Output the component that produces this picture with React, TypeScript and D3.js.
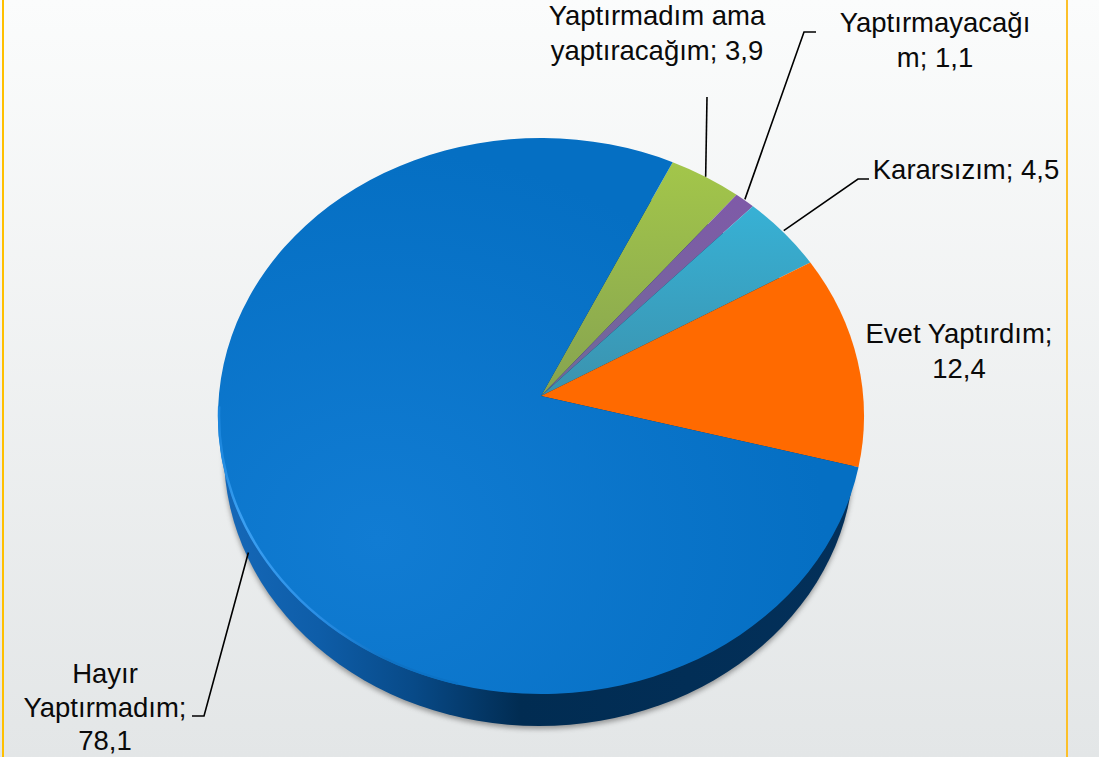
import React, { useEffect, useRef } from "react";
import * as d3 from "d3";

// values, clockwise from the green slice
const categories = ["Yaptırmadım ama yaptıracağım", "Yaptırmayacağım", "Kararsızım", "Evet Yaptırdım", "Hayır Yaptırmadım"];
const values = [3.9, 1.1, 4.5, 12.4, 78.1];
const valueLabels = ["3,9", "1,1", "4,5", "12,4", "78,1"];
const labelLines = [
  ["Yaptırmadım ama", "yaptıracağım; 3,9"],
  ["Yaptırmayacağı", "m; 1,1"],
  ["Kararsızım; 4,5"],
  ["Evet Yaptırdım;", "12,4"],
  ["Hayır", "Yaptırmadım;", "78,1"],
];
const sliceFills = ["url(#gGreen)", "url(#gPurple)", "url(#gCyan)", "#ff6a00", "url(#gBlue)"];

const width = 1099;
const height = 757;

// pie ellipse, the apex sits above the ellipse centre because of the perspective
const cx = 541;
const cy = 416;
const rx = 323;
const ry = 278;
const apex = { x: 541, y: 396 };
const tilt = (cy - apex.y) / ry;
const startDeg = 25.8;

// where each label goes
const labelPos = [
  { x: 657, y: 25, dy: 35 },
  { x: 935, y: 32, dy: 35 },
  { x: 966, y: 179, dy: 36 },
  { x: 959, y: 343, dy: 35 },
  { x: 105, y: 683, dy: 33.5 },
];
// leader lines, from the slice edge to the label (elbow points)
const leaderPts: (number[][] | null)[] = [
  [[707, 97]],
  [[804, 32], [816, 32]],
  [[858, 179], [869, 179]],
  null,
  [[204, 716], [192, 716]],
];
const leaderOffset = [[0, 0], [0, -1], [0, -2], [0, 0], [9, 37]];

// slice angle on the disc -> point on the drawn ellipse (perspective warp)
const pt = (a: number) => {
  const denom = 1 + tilt * Math.cos(a);
  const y = (Math.cos(a) + tilt) / denom;
  const x = (Math.sin(a) * Math.sqrt(1 - tilt * tilt)) / denom;
  return [cx + rx * x, cy - ry * y];
};

function App() {
  const svgRef = useRef<SVGSVGElement>(null);

  useEffect(() => {
    const svg = d3.select(svgRef.current);
    svg.selectAll("*").remove();

    const defs = svg.append("defs");
    const grad = (id: string, stops: [number, string][], x2 = 0, y2 = 1, x1 = 0, y1 = 0) => {
      const g = defs.append("linearGradient").attr("id", id)
        .attr("x1", x1).attr("y1", y1).attr("x2", x2).attr("y2", y2);
      stops.forEach(s => g.append("stop").attr("offset", s[0]).attr("stop-color", s[1]));
    };
    grad("gBg", [[0, "#fbfcfc"], [1, "#e3e6e7"]]);
    grad("gGreen", [[0, "#a3c64a"], [1, "#86a350"]], 0, 1);
    grad("gPurple", [[0, "#7f5aa8"], [1, "#6f6a98"]], 0, 1);
    grad("gCyan", [[0, "#37b1d5"], [1, "#3b92ae"]], 0, 1);
    grad("gRim", [[0, "#1568b8"], [0.15, "#0e5da8"], [0.3, "#084a88"], [0.47, "#012c52"], [1, "#03305a"]], 1, 0);
    grad("gEdge", [[0, "#1a85dc"], [0.08, "#3ba0f2"], [0.4, "#2b8fe6"], [0.7, "#0f72c4"], [1, "#0a72c6"]], 1, 0);
    const blue = defs.append("radialGradient").attr("id", "gBlue")
      .attr("cx", 0.25).attr("cy", 0.72).attr("r", 0.7);
    blue.append("stop").attr("offset", 0).attr("stop-color", "#117cd3");
    blue.append("stop").attr("offset", 1).attr("stop-color", "#056fc3");
    const blur = defs.append("filter").attr("id", "shadow")
      .attr("x", "-5%").attr("y", "-5%").attr("width", "110%").attr("height", "110%");
    blur.append("feGaussianBlur").attr("stdDeviation", 2.5);

    svg.append("rect").attr("width", width).attr("height", height).attr("fill", "url(#gBg)");
    svg.append("rect").attr("x", 2).attr("width", 2).attr("height", height).attr("fill", "#ffc000");
    svg.append("rect").attr("x", 1066).attr("width", 2).attr("height", height).attr("fill", "#fcc02a");

    // side of the pie, the top covers most of it
    const rim = { cx: 539, cy: 454, rx: 315, ry: 272 };
    svg.append("ellipse").attr("cx", rim.cx).attr("cy", rim.cy + 3).attr("rx", rim.rx).attr("ry", rim.ry)
      .attr("fill", "#555").attr("opacity", 0.55).attr("filter", "url(#shadow)");
    svg.append("ellipse").attr("cx", rim.cx).attr("cy", rim.cy).attr("rx", rim.rx).attr("ry", rim.ry)
      .attr("fill", "url(#gRim)");

    // slices
    const pie = d3.pie<number>().sort(null)
      .startAngle((startDeg * Math.PI) / 180)
      .endAngle((startDeg * Math.PI) / 180 + 2 * Math.PI);
    const arcs = pie(values);
    const slicePath = (a: d3.PieArcDatum<number>) => {
      const [x0, y0] = pt(a.startAngle);
      const [x1, y1] = pt(a.endAngle);
      const large = a.endAngle - a.startAngle > Math.PI ? 1 : 0;
      return `M${apex.x},${apex.y} L${x0},${y0} A${rx},${ry} 0 ${large} 1 ${x1},${y1} Z`;
    };
    svg.append("g").selectAll("path").data(arcs).join("path")
      .attr("d", d => slicePath(d))
      .attr("fill", (_, i) => sliceFills[i])
      .attr("data-name", (_, i) => categories[i]);

    // light bevel along the lower left edge of the top
    const ell = (deg: number) => {
      const r = (deg * Math.PI) / 180;
      return [cx + (rx - 1) * Math.sin(r), cy - (ry - 1) * Math.cos(r)];
    };
    const [ex0, ey0] = ell(195);
    const [ex1, ey1] = ell(272);
    svg.append("path")
      .attr("d", `M${ex0},${ey0} A${rx - 1},${ry - 1} 0 0 1 ${ex1},${ey1}`)
      .attr("fill", "none").attr("stroke", "url(#gEdge)").attr("stroke-width", 2.5);

    // leader lines
    const line = d3.line();
    const leaders = svg.append("g").attr("fill", "none").attr("stroke", "#000").attr("stroke-width", 1.6);
    arcs.forEach((a, i) => {
      const elbow = leaderPts[i];
      if (!elbow) return;
      const p = pt((a.startAngle + a.endAngle) / 2);
      const start: [number, number] = [p[0] + leaderOffset[i][0], p[1] + leaderOffset[i][1]];
      leaders.append("path").attr("d", line([start, ...(elbow as [number, number][])]));
    });

    // labels
    const text = svg.append("g")
      .attr("font-family", "'Liberation Sans', Arial, sans-serif")
      .attr("font-size", 27.5).attr("text-anchor", "middle").attr("fill", "#0a0a0a");
    labelLines.forEach((lines, i) => {
      const t = text.append("text").attr("data-value", valueLabels[i]);
      lines.forEach((l, j) => {
        t.append("tspan").attr("x", labelPos[i].x).attr("y", labelPos[i].y + j * labelPos[i].dy).text(l);
      });
    });
  }, []);

  return (
    <svg ref={svgRef} width={width} height={height}
      style={{ position: "absolute", left: 0, top: 0, display: "block" }} />
  );
}

export default App;
